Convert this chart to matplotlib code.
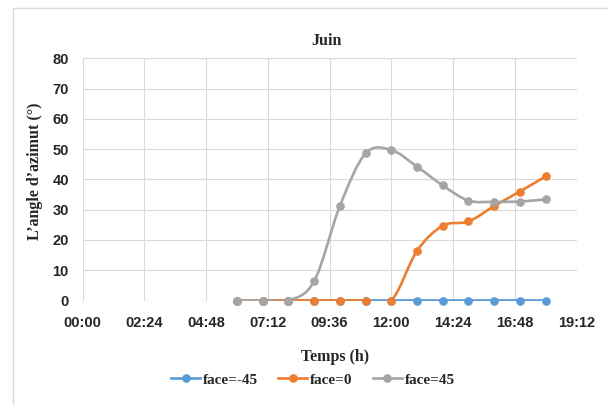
import matplotlib
matplotlib.use("Agg")
import matplotlib.pyplot as plt
from matplotlib.path import Path
from matplotlib.patches import PathPatch, Rectangle
from matplotlib.lines import Line2D

# Hourly readings for June
hours = ["06:00", "07:00", "08:00", "09:00", "10:00", "11:00", "12:00",
         "13:00", "14:00", "15:00", "16:00", "17:00", "18:00"]
face_m45 = [0, 0, 0, 0, 0, 0, 0, 0, 0, 0, 0, 0, 0]
face_0 = [0, 0, 0, 0, 0, 0, 0, 16.4, 24.7, 26.1, 31.2, 36.0, 41.0]
face_45 = [0, 0, 0, 6.4, 31.2, 48.6, 49.7, 44.2, 38.0, 33.0, 32.6, 32.7, 33.4]

series_names = ["face=-45", "face=0", "face=45"]
series_colors = ["#5B9BD5", "#ED7D31", "#A5A5A5"]

x_tick_labels = ["00:00", "02:24", "04:48", "07:12", "09:36",
                 "12:00", "14:24", "16:48", "19:12"]
y_ticks = [0, 10, 20, 30, 40, 50, 60, 70, 80]


def to_day_fraction(hhmm):
    h, m = hhmm.split(":")
    return (int(h) + int(m) / 60.0) / 24.0


def smooth_path(xs, ys):
    """Cubic Bezier through the points (Catmull-Rom style smoothing)."""
    pts = list(zip(xs, ys))
    n = len(pts)
    verts = [pts[0]]
    codes = [Path.MOVETO]
    for i in range(n - 1):
        p0 = pts[i - 1] if i > 0 else pts[i]
        p1 = pts[i]
        p2 = pts[i + 1]
        p3 = pts[i + 2] if i + 2 < n else pts[i + 1]
        c1 = (p1[0] + (p2[0] - p0[0]) / 6.0, p1[1] + (p2[1] - p0[1]) / 6.0)
        c2 = (p2[0] - (p3[0] - p1[0]) / 6.0, p2[1] - (p3[1] - p1[1]) / 6.0)
        verts += [c1, c2, p2]
        codes += [Path.CURVE4] * 3
    return Path(verts, codes)


x = [to_day_fraction(h) for h in hours]
x_ticks = [to_day_fraction(t) for t in x_tick_labels]

serif = "Liberation Serif"
sans = "Liberation Sans"

fig = plt.figure(figsize=(6.08, 4.05), dpi=100)
ax = fig.add_axes([82.7 / 608, 1 - 300.5 / 405, (576.5 - 82.7) / 608, (300.5 - 58.3) / 405])

# outer chart frame
fig.patches.append(Rectangle((13 / 608, -0.2), 1.2, 1.2 - 8 / 405,
                             transform=fig.transFigure, fill=False,
                             edgecolor="#D9D9D9", linewidth=1.0))

handles = []
for ys, name, col in zip([face_m45, face_0, face_45], series_names, series_colors):
    patch = PathPatch(smooth_path(x, ys), fill=False, edgecolor=col,
                      linewidth=1.9, capstyle="round", joinstyle="round", zorder=3)
    ax.add_patch(patch)
    ax.plot(x, ys, linestyle="none", marker="o", markersize=5.2,
            color=col, zorder=4, clip_on=False)
    handles.append(Line2D([], [], color=col, linewidth=1.9, marker="o",
                          markersize=5.2, label=name))

ax.set_xlim(0, 0.8)
ax.set_ylim(0, 80)
ax.set_xticks(x_ticks)
ax.set_xticklabels(x_tick_labels)
ax.set_yticks(y_ticks)
ax.set_yticklabels([str(v) for v in y_ticks])

for s in ax.spines.values():
    s.set_visible(False)
ax.grid(True, color="#D9D9D9", linewidth=0.8)
ax.set_axisbelow(True)
ax.tick_params(length=0, pad=11)
ax.tick_params(axis="y", pad=10)
for lab in ax.get_xticklabels() + ax.get_yticklabels():
    lab.set_fontfamily(sans)
    lab.set_fontweight("bold")
    lab.set_fontsize(10.5)
    lab.set_color("#262626")

fig.text(326 / 608, 1 - 41 / 405, "Juin", ha="center", va="center",
         fontfamily=serif, fontweight="bold", fontsize=11.5, color="#262626")
fig.text(335 / 608, 1 - 357 / 405, "Temps (h)", ha="center", va="center",
         fontfamily=serif, fontweight="bold", fontsize=11.5, color="#262626")
fig.text(35 / 608, 1 - 171 / 405, "L\u2019angle d\u2019azimut (°)", ha="center",
         va="center", rotation=90, fontfamily=serif, fontweight="bold",
         fontsize=11.5, color="#262626")

leg = fig.legend(handles=handles, loc="center", bbox_to_anchor=(313 / 608, 1 - 380 / 405),
                 ncol=3, frameon=False, handlelength=1.9, handletextpad=0.2,
                 columnspacing=1.3, prop={"family": serif, "weight": "bold", "size": 11})
for t in leg.get_texts():
    t.set_color("#262626")

fig.savefig("out.png", dpi=100)
